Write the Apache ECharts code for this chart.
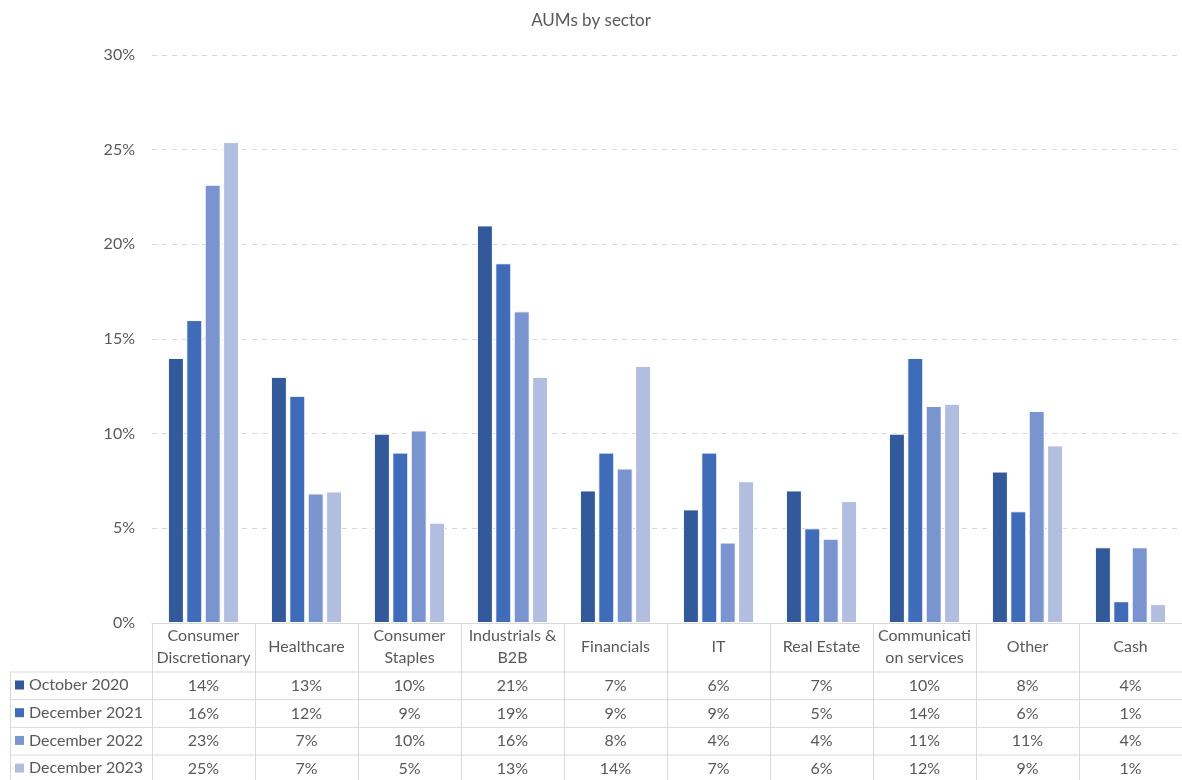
<!DOCTYPE html>
<html>
<head>
<meta charset="utf-8">
<script src="https://cdn.jsdelivr.net/npm/echarts@6/dist/echarts.min.js"></script>
<style>
  html, body { margin: 0; padding: 0; background: #fff; }
  #chart { width: 1182px; height: 780px; }
</style>
</head>
<body>
<div id="chart"></div>
<script>
// sectors (header row of the data table)
const categories = ['Consumer\nDiscretionary', 'Healthcare', 'Consumer\nStaples', 'Industrials &\nB2B',
  'Financials', 'IT', 'Real Estate', 'Communicati\non services', 'Other', 'Cash']
const seriesNames = ['October 2020', 'December 2021', 'December 2022', 'December 2023']
const oct2020 = [14, 13, 10, 21, 7, 6, 7, 10, 8, 4]
const dec2021 = [16, 12, 9, 19, 9, 9, 5, 14, 5.9, 1.15]
const dec2022 = [23.15, 6.84, 10.17, 16.46, 8.16, 4.25, 4.45, 11.46, 11.2, 4.0]
const dec2023 = [25.4, 6.95, 5.3, 13.0, 13.58, 7.49, 6.44, 11.58, 9.38, 1.0]
const yTicks = { min: 0, max: 30, interval: 5 }

const allValues = [oct2020, dec2021, dec2022, dec2023]
const colors = ['#325A9B', '#3F6CB9', '#7A94CF', '#B2BEDF']
const textColor = '#595959'
const lineColor = '#d9d9d9'
const font = 'Lato, "Open Sans", sans-serif'

const gridLeft = 152
const gridTop = 55
const gridBottom = 157
const headerH = 49
const rowH = 27.7

let chart = echarts.init(document.getElementById('chart'))

// one hidden axis per table row, labels = rounded values
let tableAxes = allValues.map((vals, k) => ({
  type: 'category',
  gridIndex: 0,
  position: 'bottom',
  data: categories,
  offset: headerH + rowH * k + rowH / 2,
  axisLine: { show: false },
  axisTick: { show: false },
  splitLine: { show: false },
  axisLabel: {
    interval: 0,
    margin: 0,
    verticalAlign: 'middle',
    color: textColor,
    fontFamily: font,
    fontSize: 16,
    formatter: (v, i) => Math.round(vals[i]) + '%'
  }
}))

let tableLines = []
for (let k = 0; k <= allValues.length; k++) {
  let y = 780 - gridBottom + headerH + rowH * k
  tableLines.push({
    type: 'line',
    shape: { x1: 10, y1: y, x2: 1182, y2: y },
    style: { stroke: lineColor, lineWidth: 1 },
    silent: true
  })
}
tableLines.push({
  type: 'line',
  shape: { x1: 10.5, y1: 780 - gridBottom + headerH, x2: 10.5, y2: 780 },
  style: { stroke: lineColor, lineWidth: 1 },
  silent: true
})

let option = {
  backgroundColor: '#fff',
  animation: false,
  title: {
    text: 'AUMs by sector',
    left: 'center',
    top: 7,
    textStyle: { color: textColor, fontFamily: font, fontSize: 17, fontWeight: 'normal' }
  },
  legend: {
    orient: 'vertical',
    left: 15,
    top: 780 - gridBottom + headerH + 4,
    height: 150,
    padding: 0,
    itemWidth: 9,
    itemHeight: 9,
    itemGap: 9.7,
    icon: 'rect',
    itemStyle: { borderWidth: 0 },
    textStyle: { color: textColor, fontFamily: font, fontSize: 16, lineHeight: 18 },
    data: seriesNames
  },
  grid: {
    left: gridLeft,
    top: gridTop,
    bottom: gridBottom,
    width: 1034
  },
  xAxis: [{
    type: 'category',
    data: categories,
    axisLine: { lineStyle: { color: lineColor, width: 1 } },
    axisTick: { show: true, interval: 0, length: 160, lineStyle: { color: lineColor } },
    axisLabel: {
      interval: 0,
      margin: 24,
      verticalAlign: 'middle',
      lineHeight: 22,
      color: textColor,
      fontFamily: font,
      fontSize: 16
    }
  }].concat(tableAxes),
  yAxis: {
    type: 'value',
    min: yTicks.min,
    max: yTicks.max,
    interval: yTicks.interval,
    axisLine: { show: false },
    axisTick: { show: false },
    axisLabel: {
      margin: 17,
      color: textColor,
      fontFamily: font,
      fontSize: 16,
      formatter: '{value}%'
    },
    splitLine: { lineStyle: { color: lineColor, type: [5, 5] } }
  },
  series: allValues.map((vals, k) => ({
    name: seriesNames[k],
    type: 'bar',
    data: vals,
    barWidth: 16,
    barGap: '15%',
    itemStyle: { color: colors[k], borderColor: '#fff', borderWidth: 1 }
  })),
  graphic: tableLines
}
chart.setOption(option)
</script>
</body>
</html>
